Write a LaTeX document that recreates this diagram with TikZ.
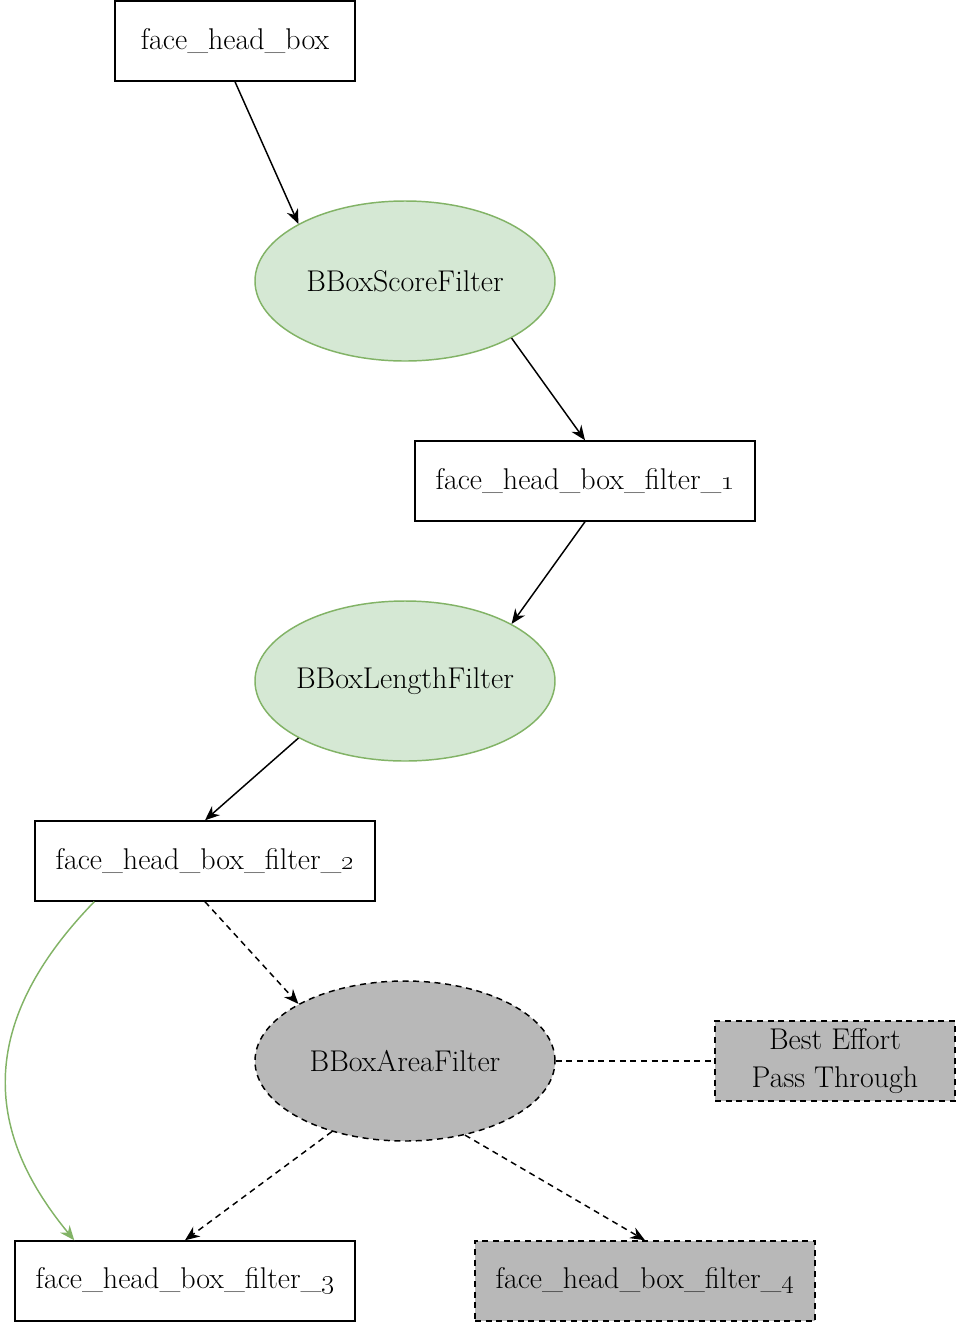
\documentclass[tikz,border=0pt]{standalone}
\usepackage{xcolor}
\usepackage{tikz}
\usetikzlibrary{arrows.meta, positioning, shapes.geometric}
\definecolor{flgreen}{HTML}{D5E8D4}
\definecolor{flgreenline}{HTML}{82B366}
\definecolor{flgray}{HTML}{B8B8B8}
\newcommand{\fltname}[1]{\makebox[0pt]{#1}}

\begin{document}
\begin{tikzpicture}[
    x=0.75pt, y=-0.75pt,
    dat/.style={draw, line width=1.1pt, minimum width=#1, minimum height=60pt,
                inner sep=0pt, font=\fontsize{22.5}{28}\selectfont},
    dat/.default=255pt,
    flt/.style={ellipse, draw=#1, line width=1.1pt, minimum width=225pt,
                minimum height=120pt, inner sep=0pt,
                font=\fontsize{22.5}{28}\selectfont},
    dsh/.style={dash pattern=on 4.5pt off 3.5pt},
    arr/.style={-{Stealth[length=11pt, width=9pt]}, line width=1.1pt},
]
    \useasboundingbox (0,0) rectangle (956,1322);

    % Data nodes
    \node[dat=180pt] (src) at (235,41) {face\_head\_box};
    \node[dat] (f1) at (585,481) {face\_head\_box\_filter\_\oldstylenums{1}};
    \node[dat] (f2) at (205,861) {face\_head\_box\_filter\_\oldstylenums{2}};
    \node[dat] (f3) at (185,1281) {face\_head\_box\_filter\_\oldstylenums{3}};
    \node[dat, dsh, fill=flgray] (f4) at (645,1281) {face\_head\_box\_filter\_\oldstylenums{4}};

    % Filters
    \node[flt=flgreenline, fill=flgreen] (score) at (405,281) {\fltname{BBoxScoreFilter}};
    \node[flt=flgreenline, fill=flgreen] (length) at (405,681) {\fltname{BBoxLengthFilter}};
    \node[flt=black, dsh, fill=flgray] (area) at (405,1061) {\fltname{BBoxAreaFilter}};
    \node[dat=180pt, dsh, fill=flgray, align=center, font=\fontsize{22.5}{28.5}\selectfont]
        (best) at (835,1061) {Best Effort\\Pass Through};

    % Flow arrows
    \draw[arr] (src.south) -- (score.north west);
    \draw[arr] (score.south east) -- (f1.north);
    \draw[arr] (f1.south) -- (length.north east);
    \draw[arr] (length.south west) -- (f2.north);
    \draw[arr, dsh] (f2.south) -- (area.north west);
    \draw[arr, dsh] (area.224) -- (f3.north);
    \draw[arr, dsh] (area.-51) -- (f4.north);
    \draw[line width=1.1pt, dsh] (area.east) -- (best.west);
    \draw[arr, draw=flgreenline]
        ([xshift=45pt]f2.south west) .. controls (-40,1040) and (0,1150) ..
        ([xshift=45pt]f3.north west);
\end{tikzpicture}
\end{document}
